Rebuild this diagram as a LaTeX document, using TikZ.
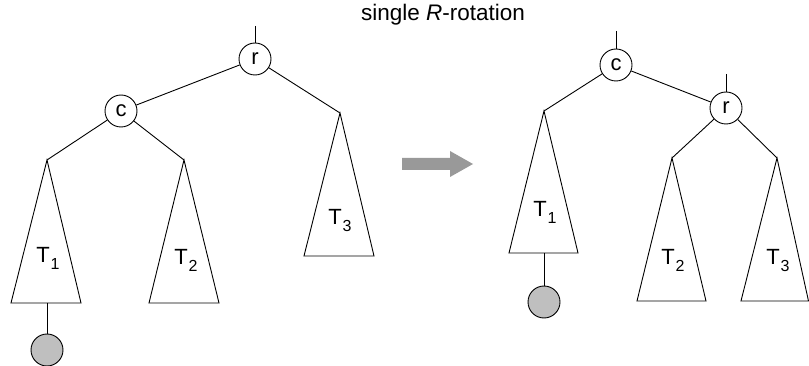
\documentclass[tikz,border=0pt]{standalone}
\usepackage{fontspec}
\setmainfont{Liberation Sans}
\newcommand{\Tsub}[1]{T\kern0.8pt\raisebox{-0.28em}{\fontsize{16}{16}\selectfont #1}}
\begin{document}
\begin{tikzpicture}[x=1pt,y=-1pt,line width=0.9pt,
  vert/.style={circle,draw,fill=white,minimum size=32pt,inner sep=0pt,font=\fontsize{22}{26}\selectfont},
  leaf/.style={circle,draw,fill=gray!50,minimum size=32pt,inner sep=0pt},
  lbl/.style={font=\fontsize{22}{26}\selectfont,inner sep=0pt,anchor=base},
  tri/.style={draw,line join=miter}]
\useasboundingbox (0,0) rectangle (809,366);

% title
\node[font=\fontsize{22.5}{26}\selectfont,inner sep=0pt] (title) at (443,15) {single \textit{R}-rotation};

% ---------- left tree ----------
\node[vert] (r1) at (255,59) {r};
\node[vert] (c1) at (121,111) {c};
\coordinate (r1top) at (255,26);
\coordinate (a1) at (47,160);
\coordinate (a2) at (184,160);
\coordinate (a3) at (340,113);
\draw (r1top) -- (r1.north);
\draw (r1) -- (c1);
\draw (r1) -- (a3);
\draw (c1) -- (a1);
\draw (c1) -- (a2);
\draw[tri] (a1) -- (11,303) -- (81,303) -- cycle;
\draw[tri] (a2) -- (149,303) -- (219,303) -- cycle;
\draw[tri] (a3) -- (304,256) -- (374,256) -- cycle;
\coordinate (b1) at (47,303);
\node[leaf] (g1) at (47,350) {};
\draw (b1) -- (g1);
\node[lbl] (t1) at (48,263) {\Tsub{1}};
\node[lbl] (t2) at (186,265) {\Tsub{2}};
\node[lbl] (t3) at (340,225) {\Tsub{3}};

% ---------- arrow ----------
\fill[gray!80] (402,158) -- (450,158) -- (450,151) -- (473,164) -- (450,177) -- (450,170) -- (402,170) -- cycle;

% ---------- right tree ----------
\node[vert] (c2) at (616,65) {c};
\node[vert] (r2) at (726,108) {r};
\coordinate (c2top) at (616,31);
\coordinate (r2top) at (726,74);
\coordinate (d1) at (544,111);
\coordinate (d2) at (672,158);
\coordinate (d3) at (777,158);
\draw (c2top) -- (c2.north);
\draw (r2top) -- (r2.north);
\draw (c2) -- (r2);
\draw (c2) -- (d1);
\draw (r2) -- (d2);
\draw (r2) -- (d3);
\draw[tri] (d1) -- (509,253) -- (578,253) -- cycle;
\draw[tri] (d2) -- (637,301) -- (706,301) -- cycle;
\draw[tri] (d3) -- (741,301) -- (808.5,301) -- cycle;
\coordinate (e1) at (544,253);
\node[leaf] (g2) at (544,302) {};
\draw (e1) -- (g2);
\node[lbl] (u1) at (545,217) {\Tsub{1}};
\node[lbl] (u2) at (673,265) {\Tsub{2}};
\node[lbl] (u3) at (778,265) {\Tsub{3}};
\end{tikzpicture}
\end{document}
